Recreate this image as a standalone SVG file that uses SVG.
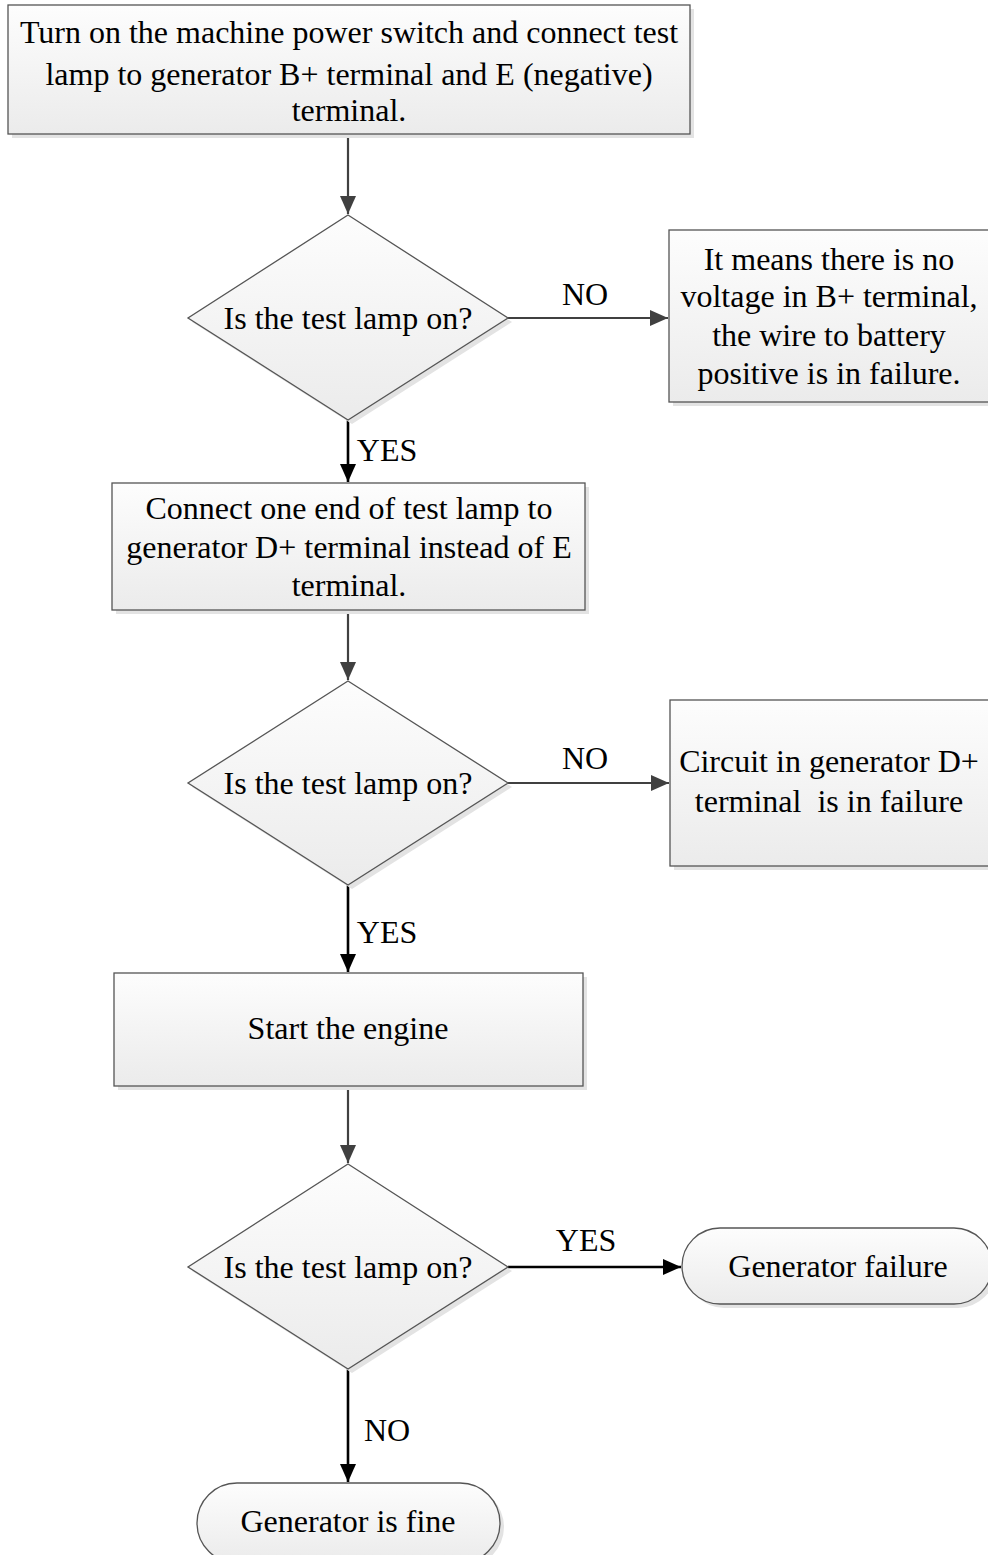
<svg xmlns="http://www.w3.org/2000/svg" width="988" height="1555" viewBox="0 0 988 1555">
<style>
.shape{fill:url(#g);stroke:#555;stroke-width:1.3}
.shadow{fill:#e3e3e3;stroke:none}
text{font-family:"Liberation Serif","Times New Roman",serif;font-size:32px;fill:#000;text-anchor:middle}
.c1{stroke:#404040;stroke-width:2.2;fill:none}
.c2{stroke:#000;stroke-width:2.6;fill:none}
</style>
<defs>
<linearGradient id="g" x1="0" y1="0" x2="0" y2="1">
<stop offset="0" stop-color="#fdfdfd"/>
<stop offset="1" stop-color="#ebebeb"/>
</linearGradient>
<marker id="ag" markerWidth="18" markerHeight="16" refX="10" refY="5" orient="auto" markerUnits="userSpaceOnUse" viewBox="0 0 10 10" preserveAspectRatio="none">
<path d="M0,0 L10,5 L0,10 z" fill="#404040"/>
</marker>
<marker id="ab" markerWidth="18" markerHeight="16" refX="10" refY="5" orient="auto" markerUnits="userSpaceOnUse" viewBox="0 0 10 10" preserveAspectRatio="none">
<path d="M0,0 L10,5 L0,10 z" fill="#000"/>
</marker>
</defs>
<rect width="988" height="1555" fill="#fff"/>

<g id="connectors">
<line class="c1" x1="348" y1="134" x2="348" y2="214" marker-end="url(#ag)"/>
<line class="c1" x1="508" y1="318" x2="668" y2="318" marker-end="url(#ag)"/>
<text x="585" y="305">NO</text>
<line class="c2" x1="348" y1="420" x2="348" y2="482" marker-end="url(#ab)"/>
<text x="387" y="461">YES</text>
<line class="c1" x1="348" y1="610" x2="348" y2="680" marker-end="url(#ag)"/>
<line class="c1" x1="508" y1="783" x2="669" y2="783" marker-end="url(#ag)"/>
<text x="585" y="769">NO</text>
<line class="c2" x1="348" y1="885" x2="348" y2="972" marker-end="url(#ab)"/>
<text x="387" y="943">YES</text>
<line class="c1" x1="348" y1="1086" x2="348" y2="1163" marker-end="url(#ag)"/>
<line class="c2" x1="508" y1="1267" x2="681" y2="1267" marker-end="url(#ab)"/>
<text x="586" y="1251">YES</text>
<line class="c2" x1="348" y1="1369" x2="348" y2="1482" marker-end="url(#ab)"/>
<text x="387" y="1441">NO</text>
</g>

<g id="n1">
<rect class="shadow" x="12" y="9" width="682" height="129"/>
<rect class="shape" x="8" y="5" width="682" height="129"/>
<text x="349" y="43">Turn on the machine power switch and connect test</text>
<text x="349" y="85">lamp to generator B+ terminal and E (negative)</text>
<text x="349" y="121">terminal.</text>
</g>

<g id="d1">
<polygon class="shadow" points="352,219 512,322 352,424 192,322"/>
<polygon class="shape" points="348,215 508,318 348,420 188,318"/>
<text x="348" y="329">Is the test lamp on?</text>
</g>

<g id="n2">
<rect class="shadow" x="673" y="234" width="330" height="172"/>
<rect class="shape" x="669" y="230" width="330" height="172"/>
<text x="829" y="270">It means there is no</text>
<text x="829" y="307">voltage in B+ terminal,</text>
<text x="829" y="346">the wire to battery</text>
<text x="829" y="384">positive is in failure.</text>
</g>

<g id="n3">
<rect class="shadow" x="116" y="487" width="473" height="127"/>
<rect class="shape" x="112" y="483" width="473" height="127"/>
<text x="349" y="519">Connect one end of test lamp to</text>
<text x="349" y="558">generator D+ terminal instead of E</text>
<text x="349" y="596">terminal.</text>
</g>

<g id="d2">
<polygon class="shadow" points="352,685 512,787 352,889 192,787"/>
<polygon class="shape" points="348,681 508,783 348,885 188,783"/>
<text x="348" y="794">Is the test lamp on?</text>
</g>

<g id="n4">
<rect class="shadow" x="674" y="704" width="330" height="166"/>
<rect class="shape" x="670" y="700" width="330" height="166"/>
<text x="829" y="772">Circuit in generator D+</text>
<text x="829" y="812" style="white-space:pre" xml:space="preserve">terminal  is in failure</text>
</g>

<g id="n5">
<rect class="shadow" x="118" y="977" width="469" height="113"/>
<rect class="shape" x="114" y="973" width="469" height="113"/>
<text x="348" y="1039">Start the engine</text>
</g>

<g id="d3">
<polygon class="shadow" points="352,1168 512,1271 352,1373 192,1271"/>
<polygon class="shape" points="348,1164 508,1267 348,1369 188,1267"/>
<text x="348" y="1278">Is the test lamp on?</text>
</g>

<g id="t1">
<rect class="shadow" x="686" y="1232" width="310" height="76" rx="38" ry="38"/>
<rect class="shape" x="682" y="1228" width="310" height="76" rx="38" ry="38"/>
<text x="838" y="1277">Generator failure</text>
</g>

<g id="t2">
<rect class="shadow" x="201" y="1487" width="303" height="80" rx="40" ry="40"/>
<rect class="shape" x="197" y="1483" width="303" height="80" rx="40" ry="40"/>
<text x="348" y="1532">Generator is fine</text>
</g>
</svg>
